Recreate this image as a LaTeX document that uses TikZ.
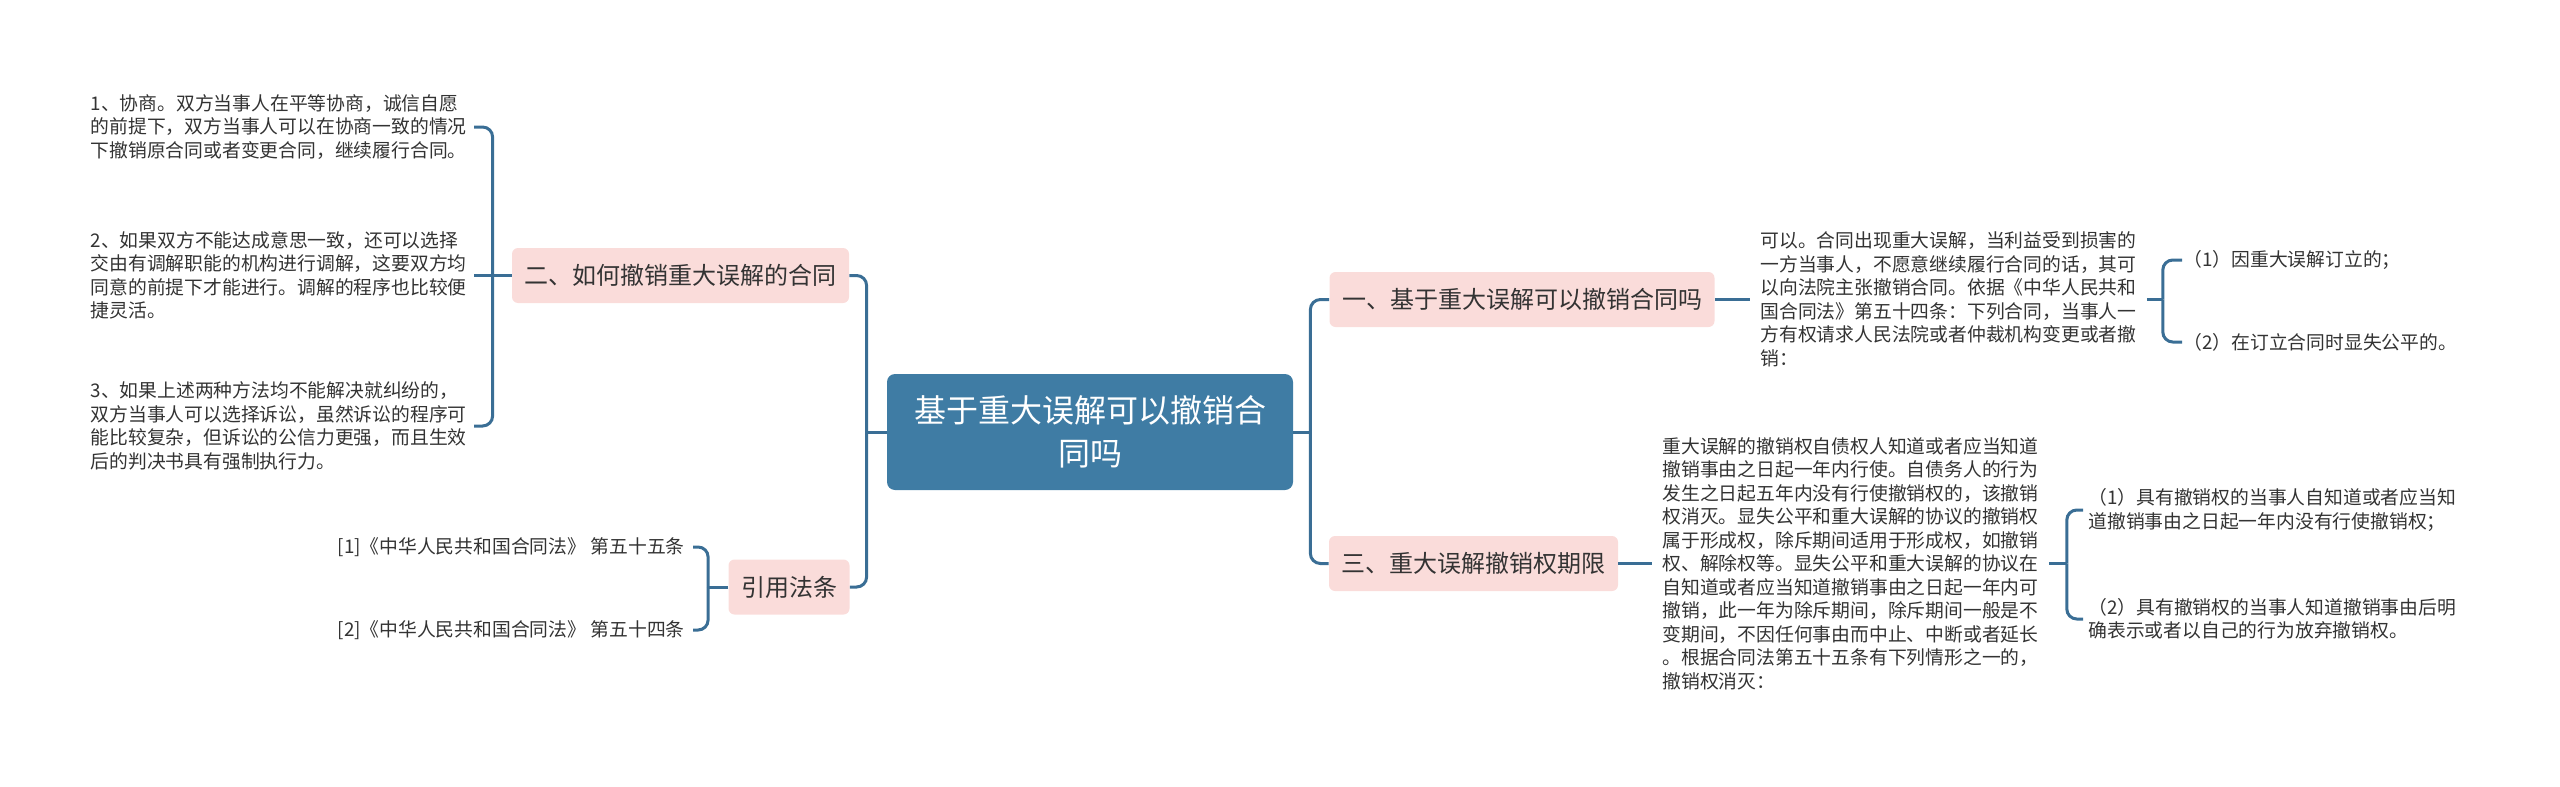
\documentclass[tikz,border=0pt]{standalone}
\usepackage{fontspec}
\setmainfont{Noto Sans CJK SC}
\definecolor{rootblue}{HTML}{3F7CA4}
\definecolor{linkblue}{HTML}{3A6E95}
\definecolor{topicpink}{HTML}{FADCDA}
\definecolor{inkgray}{HTML}{333333}

\begin{document}
\begin{tikzpicture}[x=0.5pt,y=-0.5pt,
  rootbox/.style={rectangle,rounded corners=4pt,fill=rootblue,text=white,
                  font={\fontsize{16pt}{21.5pt}\selectfont},align=center,
                  minimum width=203pt,minimum height=58pt},
  topic/.style={rectangle,rounded corners=3pt,fill=topicpink,text=inkgray,
                font={\fontsize{12pt}{14pt}\selectfont},
                inner xsep=6.25pt,minimum height=27.5pt},
  leaf/.style={text=inkgray,font={\fontsize{9.4pt}{11.75pt}\selectfont},
               align=left,inner ysep=0pt},
  link/.style={line width=1.5pt,linkblue,rounded corners=5pt}]

  \useasboundingbox (0,0) rectangle (2560,787);

  % ===== centre and the four topics =====
  \node[rootbox] (root) at (1090,432) {基于重大误解可以撤销合\\同吗};
  \node[topic] (two)   at (680.5,275.5) {二、如何撤销重大误解的合同};
  \node[topic] (cite)  at (789,587)     {引用法条};
  \node[topic] (one)   at (1522,299.5)  {一、基于重大误解可以撤销合同吗};
  \node[topic] (three) at (1473.5,563.5){三、重大误解撤销权期限};

  % ===== leaves of topic two =====
  \node[leaf,text width=188pt,inner xsep=3.5pt,anchor=east] (twoA) at (474,127)
    {1、协商。双方当事人在平等协商，诚信自愿\\的前提下，双方当事人可以在协商一致的情况\\下撤销原合同或者变更合同，继续履行合同。};
  \node[leaf,text width=188pt,inner xsep=3.5pt,anchor=east] (twoB) at (474,275.5)
    {2、如果双方不能达成意思一致，还可以选择\\交由有调解职能的机构进行调解，这要双方均\\同意的前提下才能进行。调解的程序也比较便\\捷灵活。};
  \node[leaf,text width=188pt,inner xsep=3.5pt,anchor=east] (twoC) at (474,426)
    {3、如果上述两种方法均不能解决就纠纷的，\\双方当事人可以选择诉讼，虽然诉讼的程序可\\能比较复杂，但诉讼的公信力更强，而且生效\\后的判决书具有强制执行力。};

  % ===== leaves of the citation topic =====
  \node[leaf,inner xsep=4pt,anchor=east] (citeA) at (693,547) {[1]《中华人民共和国合同法》 第五十五条};
  \node[leaf,inner xsep=4pt,anchor=east] (citeB) at (693,630) {[2]《中华人民共和国合同法》 第五十四条};

  % ===== topic one =====
  \node[leaf,text width=188pt,inner xsep=5pt,anchor=west] (oneText) at (1750,299.5)
    {可以。合同出现重大误解，当利益受到损害的\\一方当事人，不愿意继续履行合同的话，其可\\以向法院主张撤销合同。依据《中华人民共和\\国合同法》第五十四条：下列合同，当事人一\\方有权请求人民法院或者仲裁机构变更或者撤\\销：};
  \node[leaf,inner xsep=0.5pt,anchor=west] (oneA) at (2182,260) {（1）因重大误解订立的；};
  \node[leaf,inner xsep=0.5pt,anchor=west] (oneB) at (2182,342) {（2）在订立合同时显失公平的。};

  % ===== topic three =====
  \node[leaf,text width=188pt,inner xsep=5pt,anchor=west] (threeText) at (1652,563.5)
    {重大误解的撤销权自债权人知道或者应当知道\\撤销事由之日起一年内行使。自债务人的行为\\发生之日起五年内没有行使撤销权的，该撤销\\权消灭。显失公平和重大误解的协议的撤销权\\属于形成权，除斥期间适用于形成权，如撤销\\权、解除权等。显失公平和重大误解的协议在\\自知道或者应当知道撤销事由之日起一年内可\\撤销，此一年为除斥期间，除斥期间一般是不\\变期间，不因任何事由而中止、中断或者延长\\。根据合同法第五十五条有下列情形之一的，\\撤销权消灭：};
  \node[leaf,text width=185pt,inner xsep=2.5pt,anchor=west] (threeA) at (2083,510)
    {（1）具有撤销权的当事人自知道或者应当知\\道撤销事由之日起一年内没有行使撤销权；};
  \node[leaf,text width=185pt,inner xsep=2.5pt,anchor=west] (threeB) at (2083,619)
    {（2）具有撤销权的当事人知道撤销事由后明\\确表示或者以自己的行为放弃撤销权。};

  % ===== links =====
  \draw[link] (root.west) -- ++(-20,0) coordinate (jRootL);
  \draw[link] (jRootL) |- (two.east);
  \draw[link] (jRootL) |- (cite.east);
  \draw[link] (root.east) -- ++(17,0) coordinate (jRootR);
  \draw[link] (jRootR) |- (one.west);
  \draw[link] (jRootR) |- (three.west);

  \draw[link] (two.west) -- (twoB.east);
  \draw[link] (two.west) -- ++(-19,0) coordinate (jTwo);
  \draw[link] (jTwo) |- (twoA.east);
  \draw[link] (jTwo) |- (twoC.east);

  \draw[link] (cite.west) -- ++(-20,0) coordinate (jCite);
  \draw[link] (jCite) |- (citeA.east);
  \draw[link] (jCite) |- (citeB.east);

  \draw[link] (one.east) -- (oneText.west);
  \draw[link] (oneText.east) -- ++(16,0) coordinate (jOne);
  \draw[link] (jOne) |- (oneA.west);
  \draw[link] (jOne) |- (oneB.west);

  \draw[link] (three.east) -- (threeText.west);
  \draw[link] (threeText.east) -- ++(18,0) coordinate (jThree);
  \draw[link] (jThree) |- (threeA.west);
  \draw[link] (jThree) |- (threeB.west);

\end{tikzpicture}
\end{document}
